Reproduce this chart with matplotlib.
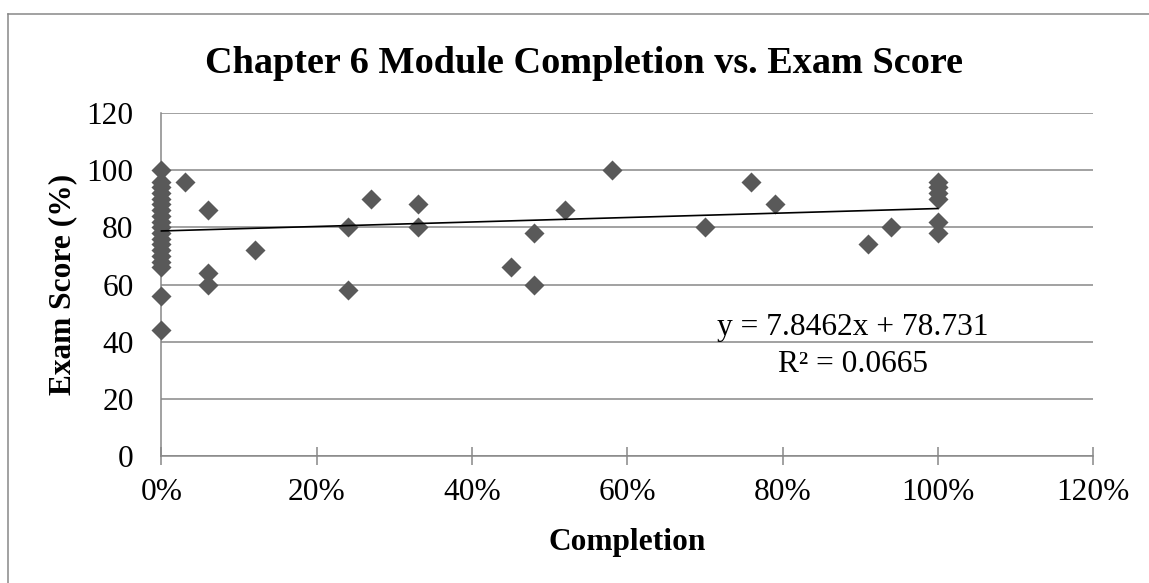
import numpy as np
import matplotlib.pyplot as plt
from matplotlib.lines import Line2D
from matplotlib.ticker import FuncFormatter

# ==========================================
# Data
# ==========================================
completion = [
    0, 0, 0, 0, 0, 0, 0, 0, 0, 0, 0, 0, 0, 0, 0, 0, 0, 0, 0,
    0.03, 0.06, 0.06, 0.06, 0.12, 0.24, 0.24, 0.27, 0.33, 0.33,
    0.45, 0.48, 0.48, 0.52, 0.58, 0.70, 0.76, 0.79, 0.91, 0.94,
    1.0, 1.0, 1.0, 1.0, 1.0, 1.0,
]
exam_score = [
    100, 96, 94, 92, 90, 88, 86, 84, 82, 80, 78, 76, 74, 72, 70, 68, 66, 56, 44,
    96, 86, 64, 60, 72, 80, 58, 90, 88, 80,
    66, 78, 60, 86, 100, 80, 96, 88, 74, 80,
    96, 94, 92, 90, 82, 78,
]

# linear trendline shown on the chart
trend_slope = 7.8462
trend_intercept = 78.731
trend_r2 = 0.0665

x_ticks = [0, 0.2, 0.4, 0.6, 0.8, 1.0, 1.2]
y_ticks = [0, 20, 40, 60, 80, 100, 120]

title = 'Chapter 6 Module Completion vs. Exam Score'

# ==========================================
# Style
# ==========================================
plt.rcParams.update({
    'font.family': ['Liberation Serif', 'DejaVu Serif'],
    'font.size': 22.6,
})

grid_color = '#878787'
marker_color = '#595959'

fig = plt.figure(figsize=(11.49, 5.83), dpi=100)
ax = fig.add_axes([0.1405, 0.2178, 0.9513 - 0.1405, 0.8062 - 0.2178])

ax.scatter(completion, exam_score, marker='D', s=10.2 ** 2,
           color=marker_color, linewidths=0, zorder=3, clip_on=False)

tx = np.array([min(completion), max(completion)])
ax.plot(tx, trend_slope * tx + trend_intercept, color='black',
        linewidth=1.2, zorder=4, clip_on=False)

ax.set_xlim(0, 1.2)
ax.set_ylim(0, 120)
ax.set_xticks(x_ticks)
ax.set_yticks(y_ticks)
ax.xaxis.set_major_formatter(FuncFormatter(lambda v, p: f'{v * 100:.0f}%'))

ax.grid(axis='y', color=grid_color, linewidth=1.1, zorder=0)
ax.set_axisbelow(True)

for side in ['top', 'right']:
    ax.spines[side].set_visible(False)
for side in ['left', 'bottom']:
    ax.spines[side].set_color(grid_color)
    ax.spines[side].set_linewidth(1.1)

ax.tick_params(axis='x', direction='inout', length=13.4, width=1.1,
               color=grid_color, pad=9)
ax.tick_params(axis='y', length=0, pad=20)

ax.set_xlabel('Completion', fontweight='bold', labelpad=15)
ax.set_ylabel('Exam Score (%)', fontweight='bold', labelpad=7)

# trendline equation label
ax.text(0.742, 0.353, f'y = {trend_slope}x + {trend_intercept}',
        transform=ax.transAxes, ha='center', va='baseline')
ax.text(0.742, 0.246, f'R² = {trend_r2}',
        transform=ax.transAxes, ha='center', va='baseline')

fig.text(584 / 1149, 1 - 73 / 583, title, ha='center', va='baseline',
         fontsize=27.5, fontweight='bold')

# chart frame (left and top edges visible in the crop)
fig.add_artist(Line2D([7.5 / 1149, 7.5 / 1149], [0, 1 - 13.5 / 583],
                      transform=fig.transFigure, color=grid_color, linewidth=1.1))
fig.add_artist(Line2D([7.5 / 1149, 1], [1 - 13.5 / 583, 1 - 13.5 / 583],
                      transform=fig.transFigure, color=grid_color, linewidth=1.1))

fig.savefig('out.png', dpi=100)
